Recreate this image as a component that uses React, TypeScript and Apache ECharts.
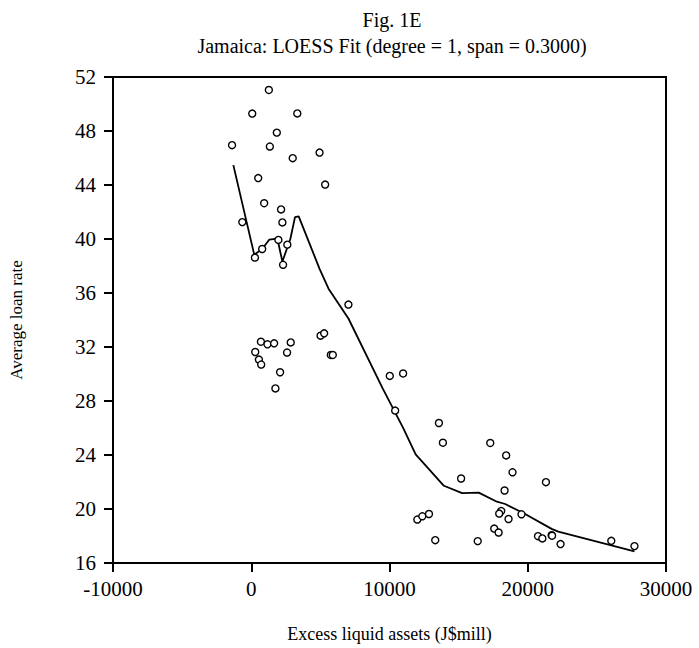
import React, { useEffect, useRef } from "react";
import * as echarts from "echarts";

const titleMain = "Fig. 1E";
const titleSub = "Jamaica: LOESS Fit (degree = 1, span = 0.3000)";
const xName = "Excess liquid assets (J$mill)";
const yName = "Average loan rate";

const pointX = [
  1273, 72, 3331, 1849, -1388, 1345, 3000, 4942, 504, 5345, 935, 2158, -647, 2252, 1964, 791, 2611, 266, 2302,
  7029, 5014, 5273, 5755, 5899, 698, 1173, 1655, 2856, 288, 2590, 554, 719, 2086, 1748,
  10021, 10985, 10410, 13575, 13863, 17288, 18439, 18899, 15180, 21316, 18324, 18079, 17935, 19547, 18611,
  12014, 12374, 12856, 17575, 17892, 20741, 21057, 21726, 21760, 22374, 13309, 16381, 26043, 27719,
];
const pointY = [
  51.04, 49.29, 49.3, 47.88, 46.95, 46.85, 45.99, 46.4, 44.51, 44.03, 42.65, 42.19, 41.25, 41.23, 39.93, 39.26, 39.58, 38.62, 38.09,
  35.14, 32.84, 33.01, 31.41, 31.41, 32.39, 32.2, 32.27, 32.34, 31.63, 31.59, 31.07, 30.7, 30.13, 28.93,
  29.86, 30.04, 27.29, 26.37, 24.91, 24.89, 23.97, 22.72, 22.26, 21.99, 21.37, 19.85, 19.66, 19.61, 19.26,
  19.22, 19.46, 19.63, 18.55, 18.26, 17.99, 17.82, 18.06, 18.02, 17.4, 17.69, 17.62, 17.64, 17.25,
];

const fitX = [
  -1295, 216, 791, 1295, 1892, 2252, 2827, 3165, 3432, 4942, 5590, 7029, 9496, 10985, 11892, 13935, 15252, 16453,
  17770, 18367, 19806, 21726, 22208, 27719,
];
const fitY = [
  45.47, 38.84, 39.26, 39.95, 40.02, 38.33, 40.0, 41.62, 41.67, 37.79, 36.32, 34.11, 28.96, 26.01, 24.05, 21.72,
  21.18, 21.21, 20.54, 20.37, 19.63, 18.53, 18.33, 16.86,
];

const xMin = -10000;
const xMax = 30000;
const xStep = 10000;
const yMin = 16;
const yMax = 52;
const yStep = 4;

const FONT = "'Liberation Serif', 'DejaVu Serif', serif";

export default function App() {
  const ref = useRef<HTMLDivElement>(null);
  useEffect(() => {
    document.body.style.margin = "0";
    if (!ref.current) return;
    const chart = echarts.init(ref.current, null, { renderer: "svg" });
    const scatter = pointX.map((x, i) => [x, pointY[i]]);
    const fit = fitX.map((x, i) => [x, fitY[i]]);
    chart.setOption({
      animation: false,
      backgroundColor: "#ffffff",
      textStyle: { fontFamily: FONT, color: "#000" },
      title: [
        {
          text: titleMain,
          left: 387,
          top: 5,
          textAlign: "center",
          textStyle: { fontFamily: FONT, fontSize: 20, fontWeight: "normal", color: "#000" },
        },
        {
          text: titleSub,
          left: 387,
          top: 31,
          textAlign: "center",
          textStyle: { fontFamily: FONT, fontSize: 20, fontWeight: "normal", color: "#000" },
        },
      ],
      grid: {
        left: 109,
        right: 33,
        top: 77,
        bottom: 82,
        show: true,
        borderColor: "#000",
        borderWidth: 2,
        backgroundColor: "transparent",
      },
      xAxis: {
        type: "value",
        min: xMin,
        max: xMax,
        interval: xStep,
        name: xName,
        nameLocation: "middle",
        nameGap: 62,
        nameTextStyle: { fontFamily: FONT, fontSize: 18, color: "#000" },
        axisLine: { show: true, onZero: false, lineStyle: { color: "#000", width: 2 } },
        axisTick: { show: true, length: 9, lineStyle: { color: "#000", width: 2 } },
        axisLabel: {
          fontFamily: FONT,
          fontSize: 21,
          color: "#000",
          margin: 15,
          formatter: (v: number) => String(v),
        },
        splitLine: { show: false },
      },
      yAxis: {
        type: "value",
        min: yMin,
        max: yMax,
        interval: yStep,
        name: yName,
        nameLocation: "middle",
        nameGap: 88,
        nameTextStyle: { fontFamily: FONT, fontSize: 17, color: "#000" },
        axisLine: { show: true, onZero: false, lineStyle: { color: "#000", width: 2 } },
        axisTick: { show: true, length: 9, lineStyle: { color: "#000", width: 2 } },
        axisLabel: {
          fontFamily: FONT,
          fontSize: 21,
          color: "#000",
          margin: 17,
          formatter: (v: number) => String(v),
        },
        splitLine: { show: false },
      },
      series: [
        {
          type: "scatter",
          data: scatter,
          symbol: "circle",
          symbolSize: 7,
          itemStyle: { color: "#fff", borderColor: "#000", borderWidth: 1.4, opacity: 1 },
          z: 3,
        },
        {
          type: "line",
          data: fit,
          showSymbol: false,
          symbol: "none",
          lineStyle: { color: "#000", width: 1.8 },
          z: 2,
        },
      ],
    });
    return () => chart.dispose();
  }, []);
  return <div ref={ref} style={{ width: 699, height: 648 }} />;
}
